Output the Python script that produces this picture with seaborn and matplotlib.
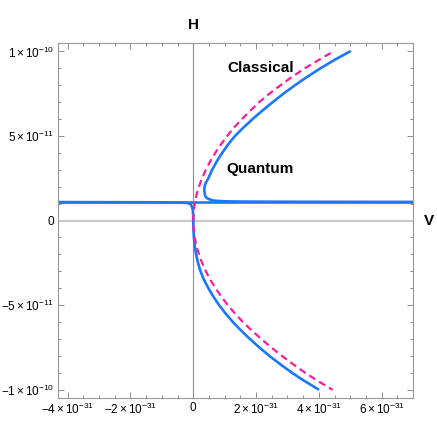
import numpy as np
import pandas as pd
import seaborn as sns
import matplotlib.pyplot as plt
from matplotlib.ticker import FixedLocator, FixedFormatter, MultipleLocator

# values: V in units of 1e-31, H in units of 1e-11
classical_V = [4.38, 4.00, 3.55, 3.15, 2.78, 2.42, 2.10, 1.82, 1.55, 1.30, 1.08,
               0.88, 0.70, 0.54, 0.40, 0.28, 0.18, 0.10, 0.045, 0.012, 0.0,
               0.012, 0.045, 0.10, 0.18, 0.28, 0.40, 0.54, 0.71, 0.89, 1.10,
               1.33, 1.58, 1.86, 2.16, 2.48, 2.82, 3.18, 3.56, 3.98, 4.44]
classical_H = [9.91, 9.5, 9.0, 8.5, 8.0, 7.5, 7.0, 6.5, 6.0, 5.5, 5.0,
               4.5, 4.0, 3.5, 3.0, 2.5, 2.0, 1.5, 1.0, 0.5, 0.0,
               -0.5, -1.0, -1.5, -2.0, -2.5, -3.0, -3.5, -4.0, -4.5, -5.0,
               -5.5, -6.0, -6.5, -7.0, -7.5, -8.0, -8.5, -9.0, -9.5, -10.02]

quantum_up_V = [7.0, 3.0, 1.6, 1.1, 0.85, 0.64, 0.52, 0.43, 0.38, 0.35, 0.36,
                0.39, 0.48, 0.60, 0.75, 0.92, 1.11, 1.33, 1.60, 1.89, 2.20,
                2.53, 2.87, 3.24, 3.63, 4.05, 4.50, 4.99]
quantum_up_H = [1.10, 1.11, 1.12, 1.13, 1.15, 1.18, 1.25, 1.33, 1.45, 1.80, 2.0,
                2.2, 2.5, 3.0, 3.5, 4.0, 4.5, 5.0, 5.5, 6.0, 6.5,
                7.0, 7.5, 8.0, 8.5, 9.0, 9.5, 10.0]

quantum_low_V = [-4.31, -1.38, -0.42, -0.16, -0.08, -0.04, -0.015, -0.003, 0.0,
                 0.005, 0.02, 0.045, 0.09, 0.15, 0.23, 0.34, 0.48, 0.64, 0.82,
                 1.03, 1.26, 1.52, 1.80, 2.10, 2.42, 2.77, 3.14, 3.55, 3.98]
quantum_low_H = [1.09, 1.08, 1.06, 1.03, 0.95, 0.80, 0.60, 0.30, 0.0,
                 -0.5, -1.0, -1.5, -2.0, -2.5, -3.0, -3.5, -4.0, -4.5, -5.0,
                 -5.5, -6.0, -6.5, -7.0, -7.5, -8.0, -8.5, -9.0, -9.5, -9.98]

flat_V = [-4.31, 7.0]
flat_H = [1.10, 1.10]

x_ticks = [-4, -2, 0, 2, 4, 6]
x_labels = [r"$-4\times10^{-31}$", r"$-2\times10^{-31}$", "0",
            r"$2\times10^{-31}$", r"$4\times10^{-31}$", r"$6\times10^{-31}$"]
y_ticks = [-10, -5, 0, 5, 10]
y_labels = [r"$-1\times10^{-10}$", r"$-5\times10^{-11}$", "0",
            r"$5\times10^{-11}$", r"$1\times10^{-10}$"]

sns.set_style("ticks")
plt.rcParams['font.family'] = ['Liberation Sans', 'DejaVu Sans']
plt.rcParams['mathtext.fontset'] = 'custom'
plt.rcParams['mathtext.rm'] = 'Liberation Sans'
plt.rcParams['mathtext.it'] = 'Liberation Sans'
plt.rcParams['mathtext.bf'] = 'Liberation Sans:bold'
plt.rcParams['text.color'] = 'black'
plt.rcParams['xtick.labelcolor'] = 'black'
plt.rcParams['ytick.labelcolor'] = 'black'

blue = "#1a78ff"
pink = "#ff1a9c"

def frame(V, H):
    return pd.DataFrame({"V": np.array(V) * 1e-31, "H": np.array(H) * 1e-11})

fig = plt.figure(figsize=(4.37, 4.37), dpi=100)
ax = fig.add_axes([0.1327, 0.0892, 0.8123, 0.8124])

ax.axhline(0, color="#c8c8c8", lw=1.6, zorder=1)
ax.axvline(0, color="#8c8c8c", lw=0.8, zorder=1)

sns.lineplot(data=frame(flat_V, flat_H), x="V", y="H", sort=False, estimator=None,
             color=blue, lw=1.9, ax=ax)
sns.lineplot(data=frame(quantum_low_V, quantum_low_H), x="V", y="H", sort=False,
             estimator=None, color=blue, lw=1.9, ax=ax)
sns.lineplot(data=frame(quantum_up_V, quantum_up_H), x="V", y="H", sort=False,
             estimator=None, color=blue, lw=1.9, ax=ax)
sns.lineplot(data=frame(classical_V, classical_H), x="V", y="H", sort=False,
             estimator=None, color=pink, lw=1.6, linestyle=(0, (3.2, 2.0)), ax=ax)

ax.set_xlim(-4.31e-31, 7.0e-31)
ax.set_ylim(-1.05e-10, 1.05e-10)

ax.xaxis.set_major_locator(FixedLocator([t * 1e-31 for t in x_ticks]))
ax.xaxis.set_major_formatter(FixedFormatter(x_labels))
ax.xaxis.set_minor_locator(MultipleLocator(0.5e-31))
ax.yaxis.set_major_locator(FixedLocator([t * 1e-11 for t in y_ticks]))
ax.yaxis.set_major_formatter(FixedFormatter(y_labels))
ax.yaxis.set_minor_locator(MultipleLocator(1e-11))

ax.tick_params(which="both", direction="in", top=True, right=True,
               color="#8c8c8c", width=0.7, labelsize=8.5, pad=3,
               labelcolor="black")
ax.tick_params(which="major", length=4.5)
ax.tick_params(which="minor", length=2.5)
for s in ax.spines.values():
    s.set_color("#9a9a9a")
    s.set_linewidth(0.8)

ax.set_xlabel("")
ax.set_ylabel("")

ax.text(0, 1.051, "H", transform=ax.get_xaxis_transform(), ha="center", va="center",
        fontsize=11, fontweight="bold", color="black")
ax.text(1.045, 0, "V", transform=ax.get_yaxis_transform(), ha="center", va="center",
        fontsize=11, fontweight="bold", color="black")
ax.text(2.14e-31, 9.05e-11, "Classical", ha="center", va="center",
        fontsize=11, fontweight="bold", color="black")
ax.text(2.14e-31, 3.04e-11, "Quantum", ha="center", va="center",
        fontsize=11, fontweight="bold", color="black")

fig.savefig("out.png", dpi=100)
